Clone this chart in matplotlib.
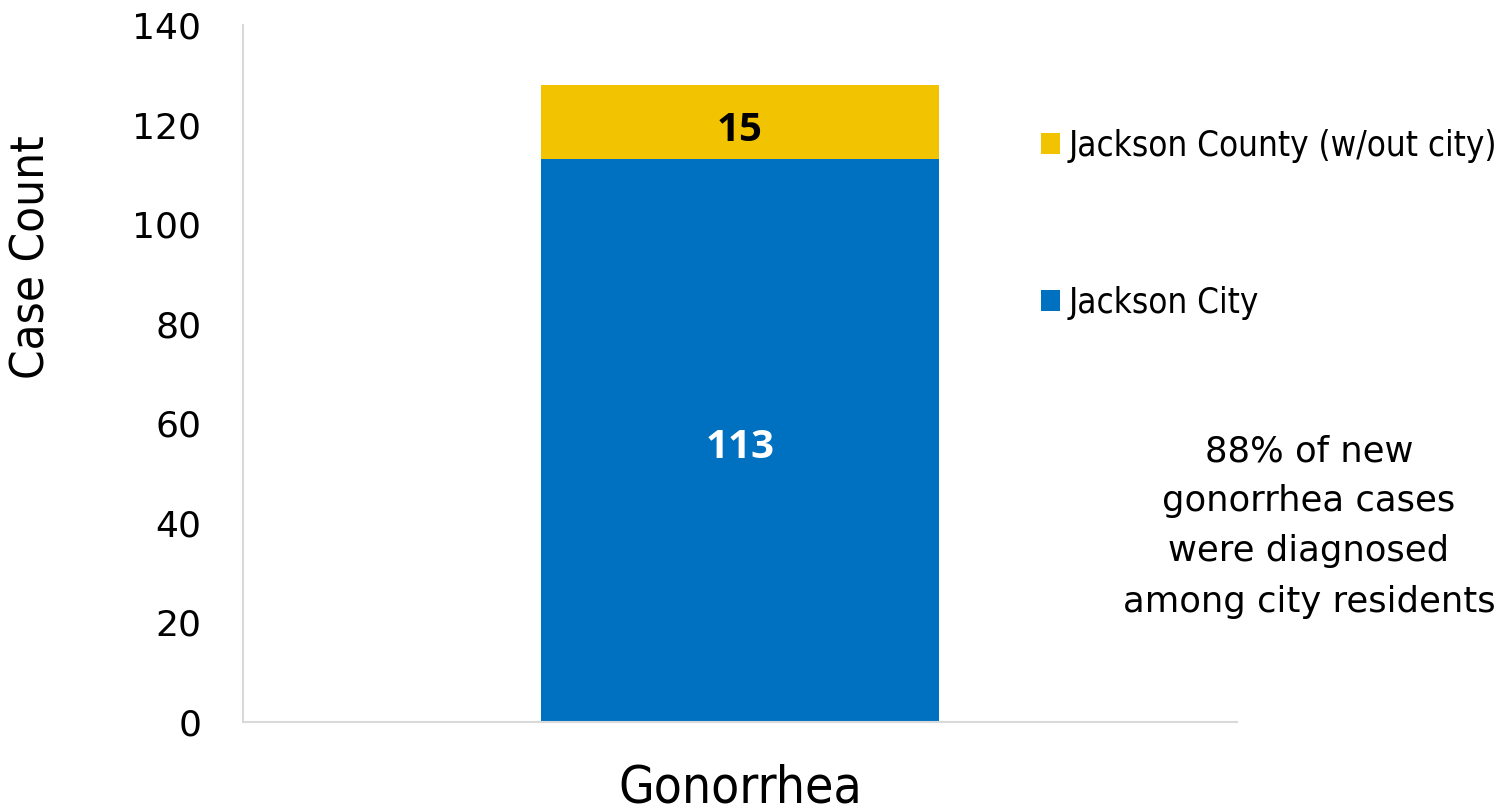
import matplotlib.pyplot as plt

categories = ['Gonorrhea']
city = [113]
county = [15]
series_names = ['Jackson City', 'Jackson County (w/out city)']
note = '88% of new\ngonorrhea cases\nwere diagnosed\namong city residents'

fig = plt.figure(figsize=(15.01, 8.11), dpi=100)
ax = fig.add_axes([0.1619, 0.1097, 0.6622, 0.8594])

b1 = ax.bar(categories, city, width=0.4, color='#0070C0', label=series_names[0])
b2 = ax.bar(categories, county, bottom=city, width=0.4, color='#F2C300', label=series_names[1])

# segment labels, nudged a little lower like in the original
for i, (c, k) in enumerate(zip(city, county)):
    ax.annotate(str(c), (i, c / 2), xytext=(0, -5), textcoords='offset points',
                ha='center', va='center', color='white', fontsize=29,
                fontweight='bold', family='Open Sans')
    ax.annotate(str(k), (i, c + k / 2), xytext=(0, -6), textcoords='offset points',
                ha='center', va='center', color='black', fontsize=29,
                fontweight='bold', family='Open Sans')

ax.set_xlim(-0.5, 0.5)
ax.set_ylim(0, 140)
ax.set_yticks(range(0, 141, 20))
for s in ['top', 'right']:
    ax.spines[s].set_visible(False)
for s in ['left', 'bottom']:
    ax.spines[s].set_color('#D9D9D9')
    ax.spines[s].set_linewidth(1.5)
ax.tick_params(axis='both', length=0)
ax.tick_params(axis='y', pad=30, labelsize=26, labelfontfamily='DejaVu Sans')
ax.tick_params(axis='x', pad=30, labelsize=37, labelfontfamily='DejaVu Sans')
for t in ax.get_xticklabels():
    t.set_fontstretch('condensed')

ax.set_ylabel('Case Count', fontsize=34, family='DejaVu Sans', fontstretch='condensed')
ax.yaxis.set_label_coords(-0.19, 0.667)

h, l = ax.get_legend_handles_labels()
fig.legend(h[::-1], l[::-1], loc='upper left', bbox_to_anchor=(0.6935, 0.841),
           frameon=False, prop={'family': 'DejaVu Sans', 'stretch': 'condensed', 'size': 25},
           borderpad=0, borderaxespad=0,
           handlelength=0.55, handleheight=0.55, handletextpad=0.25, labelspacing=3.55)

fig.text(0.872, 0.351, note, ha='center', va='center', fontsize=25.5,
         family='DejaVu Sans', linespacing=1.6)

fig.savefig('out.png', dpi=100)
